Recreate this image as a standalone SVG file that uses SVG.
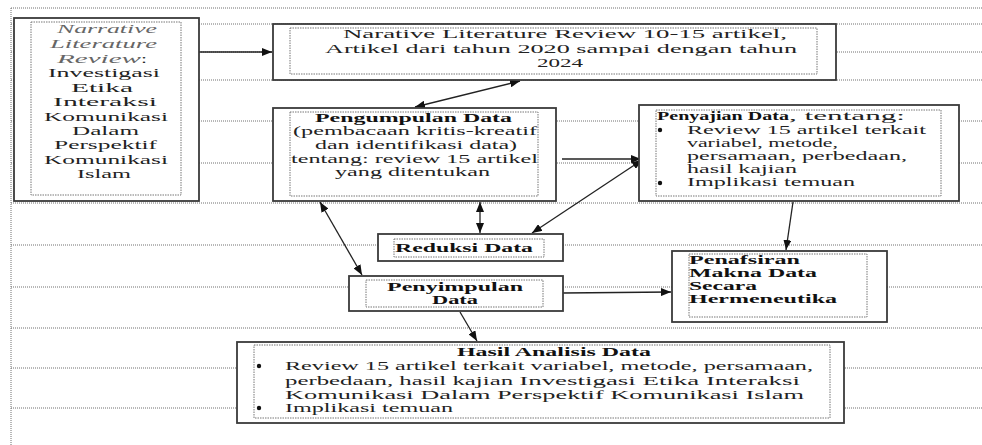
<svg xmlns="http://www.w3.org/2000/svg" width="982" height="445" viewBox="0 0 982 445">
<style>
.grid{stroke:#707070;stroke-width:1;stroke-dasharray:1 1;fill:none}
.outer{fill:#fff;stroke:#3a3a3a;stroke-width:1.8}
.inner{fill:none;stroke:#777;stroke-width:1;stroke-dasharray:1.5 1}
.t{font-family:"Liberation Serif","Times New Roman",serif;font-size:12px;fill:#222}
.b{font-weight:bold;fill:#111}
.it{font-style:italic;fill:#666}
.con{stroke:#222;stroke-width:1.3;fill:none}
</style>
<defs>
<marker id="ah" markerUnits="userSpaceOnUse" markerWidth="10" markerHeight="8" refX="10" refY="4" orient="auto-start-reverse">
<path d="M0,0 L10,4 L0,8 z" fill="#111"/>
</marker>
</defs>
<rect width="982" height="445" fill="#fff"/>
<g id="guides">
<line class="grid" x1="11" y1="8" x2="982" y2="8"/>
<line class="grid" x1="11" y1="8" x2="11" y2="445"/>
<line class="grid" x1="11" y1="24" x2="982" y2="24"/>
<line class="grid" x1="11" y1="52" x2="982" y2="52"/>
<line class="grid" x1="11" y1="80" x2="982" y2="80"/>
<line class="grid" x1="11" y1="121" x2="982" y2="121"/>
<line class="grid" x1="11" y1="163" x2="982" y2="163"/>
<line class="grid" x1="11" y1="203" x2="982" y2="203"/>
<line class="grid" x1="11" y1="245" x2="982" y2="245"/>
<line class="grid" x1="11" y1="287" x2="982" y2="287"/>
<line class="grid" x1="11" y1="328" x2="982" y2="328"/>
<line class="grid" x1="11" y1="368" x2="982" y2="368"/>
<line class="grid" x1="11" y1="408" x2="982" y2="408"/>
</g>
<g id="connectors">
<path class="con" d="M199,52 L272,52" marker-end="url(#ah)"/>
<path class="con" d="M520,81 L415,107" marker-start="url(#ah)" marker-end="url(#ah)"/>
<path class="con" d="M562,159 L641,159" marker-end="url(#ah)"/>
<path class="con" d="M642,160 L532,233" marker-start="url(#ah)" marker-end="url(#ah)"/>
<path class="con" d="M480,202 L480,233" stroke-width="2" marker-start="url(#ah)" marker-end="url(#ah)"/>
<path class="con" d="M320,202 L362,275" marker-start="url(#ah)" marker-end="url(#ah)"/>
<path class="con" d="M563,293 L671,292" marker-end="url(#ah)"/>
<path class="con" d="M793,202 L786,250" marker-end="url(#ah)"/>
<path class="con" d="M460,312 L477,341" marker-end="url(#ah)"/>
</g>
<g id="node-narrative">
<rect class="outer" x="14" y="18" width="185" height="183"/>
<rect class="inner" x="31" y="22" width="150" height="173"/>
<text class="t it" x="57" y="33" textLength="100" lengthAdjust="spacingAndGlyphs">Narrative</text>
<text class="t it" x="50" y="48" textLength="107" lengthAdjust="spacingAndGlyphs">Literature</text>
<text class="t it" x="57" y="63" textLength="84" lengthAdjust="spacingAndGlyphs">Review</text>
<text class="t" x="141" y="63" textLength="6" lengthAdjust="spacingAndGlyphs">:</text>
<text class="t" x="48" y="77" textLength="112" lengthAdjust="spacingAndGlyphs">Investigasi</text>
<text class="t" x="71" y="92" textLength="62" lengthAdjust="spacingAndGlyphs">Etika</text>
<text class="t" x="53" y="106" textLength="104" lengthAdjust="spacingAndGlyphs">Interaksi</text>
<text class="t" x="44" y="121" textLength="124" lengthAdjust="spacingAndGlyphs">Komunikasi</text>
<text class="t" x="72" y="135" textLength="67" lengthAdjust="spacingAndGlyphs">Dalam</text>
<text class="t" x="54" y="149" textLength="103" lengthAdjust="spacingAndGlyphs">Perspektif</text>
<text class="t" x="44" y="164" textLength="124" lengthAdjust="spacingAndGlyphs">Komunikasi</text>
<text class="t" x="77" y="178" textLength="54" lengthAdjust="spacingAndGlyphs">Islam</text>
</g>
<g id="node-review">
<rect class="outer" x="273" y="24" width="563" height="56"/>
<rect class="inner" x="290" y="28" width="527" height="46"/>
<text class="t" x="343" y="38" textLength="444" lengthAdjust="spacingAndGlyphs">Narative Literature Review 10-15 artikel,</text>
<text class="t" x="325" y="53" textLength="472" lengthAdjust="spacingAndGlyphs">Artikel dari tahun 2020 sampai dengan tahun</text>
<text class="t" x="537" y="67" textLength="46" lengthAdjust="spacingAndGlyphs">2024</text>
</g>
<g id="node-pengumpulan">
<rect class="outer" x="273" y="108" width="283" height="93"/>
<rect class="inner" x="290" y="112" width="248" height="84"/>
<text class="t b" x="315" y="122" textLength="197" lengthAdjust="spacingAndGlyphs">Pengumpulan Data</text>
<text class="t" x="293" y="135" textLength="244" lengthAdjust="spacingAndGlyphs">(pembacaan kritis-kreatif</text>
<text class="t" x="315" y="149" textLength="202" lengthAdjust="spacingAndGlyphs">dan identifikasi data)</text>
<text class="t" x="291" y="163" textLength="247" lengthAdjust="spacingAndGlyphs">tentang: review 15 artikel</text>
<text class="t" x="335" y="176" textLength="155" lengthAdjust="spacingAndGlyphs">yang ditentukan</text>
</g>
<g id="node-penyajian">
<rect class="outer" x="639" y="105" width="320" height="96"/>
<rect class="inner" x="656" y="110" width="285" height="86"/>
<text class="t b" x="657" y="120" textLength="132" lengthAdjust="spacingAndGlyphs">Penyajian Data</text>
<text class="t" x="789" y="120" textLength="116" lengthAdjust="spacingAndGlyphs">, tentang:</text>
<circle cx="660" cy="130" r="2.2" fill="#111"/>
<text class="t" x="687" y="134" textLength="239" lengthAdjust="spacingAndGlyphs">Review 15 artikel terkait</text>
<text class="t" x="687" y="147" textLength="151" lengthAdjust="spacingAndGlyphs">variabel, metode,</text>
<text class="t" x="687" y="160" textLength="220" lengthAdjust="spacingAndGlyphs">persamaan, perbedaan,</text>
<text class="t" x="687" y="173" textLength="110" lengthAdjust="spacingAndGlyphs">hasil kajian</text>
<circle cx="660" cy="183" r="2.2" fill="#111"/>
<text class="t" x="687" y="186" textLength="168" lengthAdjust="spacingAndGlyphs">Implikasi temuan</text>
</g>
<g id="node-reduksi">
<rect class="outer" x="378" y="234" width="185" height="27"/>
<rect class="inner" x="394" y="239" width="150" height="18"/>
<text class="t b" x="395" y="252" textLength="138" lengthAdjust="spacingAndGlyphs">Reduksi Data</text>
</g>
<g id="node-penyimpulan">
<rect class="outer" x="349" y="276" width="214" height="35"/>
<rect class="inner" x="366" y="280" width="177" height="27"/>
<text class="t b" x="387" y="291" textLength="136" lengthAdjust="spacingAndGlyphs">Penyimpulan</text>
<text class="t b" x="432" y="304" textLength="46" lengthAdjust="spacingAndGlyphs">Data</text>
</g>
<g id="node-penafsiran">
<rect class="outer" x="672" y="251" width="215" height="71"/>
<rect class="inner" x="689" y="254" width="178" height="63"/>
<text class="t b" x="689" y="264" textLength="111" lengthAdjust="spacingAndGlyphs">Penafsiran</text>
<text class="t b" x="689" y="277" textLength="128" lengthAdjust="spacingAndGlyphs">Makna Data</text>
<text class="t b" x="689" y="290" textLength="68" lengthAdjust="spacingAndGlyphs">Secara</text>
<text class="t b" x="689" y="303" textLength="148" lengthAdjust="spacingAndGlyphs">Hermeneutika</text>
</g>
<g id="node-hasil">
<rect class="outer" x="237" y="342" width="607" height="81"/>
<rect class="inner" x="254" y="345" width="576" height="73"/>
<text class="t b" x="457" y="356" textLength="194" lengthAdjust="spacingAndGlyphs">Hasil Analisis Data</text>
<circle cx="259" cy="366" r="2.2" fill="#111"/>
<text class="t" x="285" y="370" textLength="528" lengthAdjust="spacingAndGlyphs">Review 15 artikel terkait variabel, metode, persamaan,</text>
<text class="t" x="285" y="385" textLength="515" lengthAdjust="spacingAndGlyphs">perbedaan, hasil kajian <tspan font-size="13">Investigasi Etika Interaksi</tspan></text>
<text class="t" x="285" y="399" textLength="519" lengthAdjust="spacingAndGlyphs" font-size="13">Komunikasi Dalam Perspektif Komunikasi Islam</text>
<circle cx="259" cy="408" r="2.2" fill="#111"/>
<text class="t" x="285" y="412" textLength="168" lengthAdjust="spacingAndGlyphs">Implikasi temuan</text>
</g>
</svg>
